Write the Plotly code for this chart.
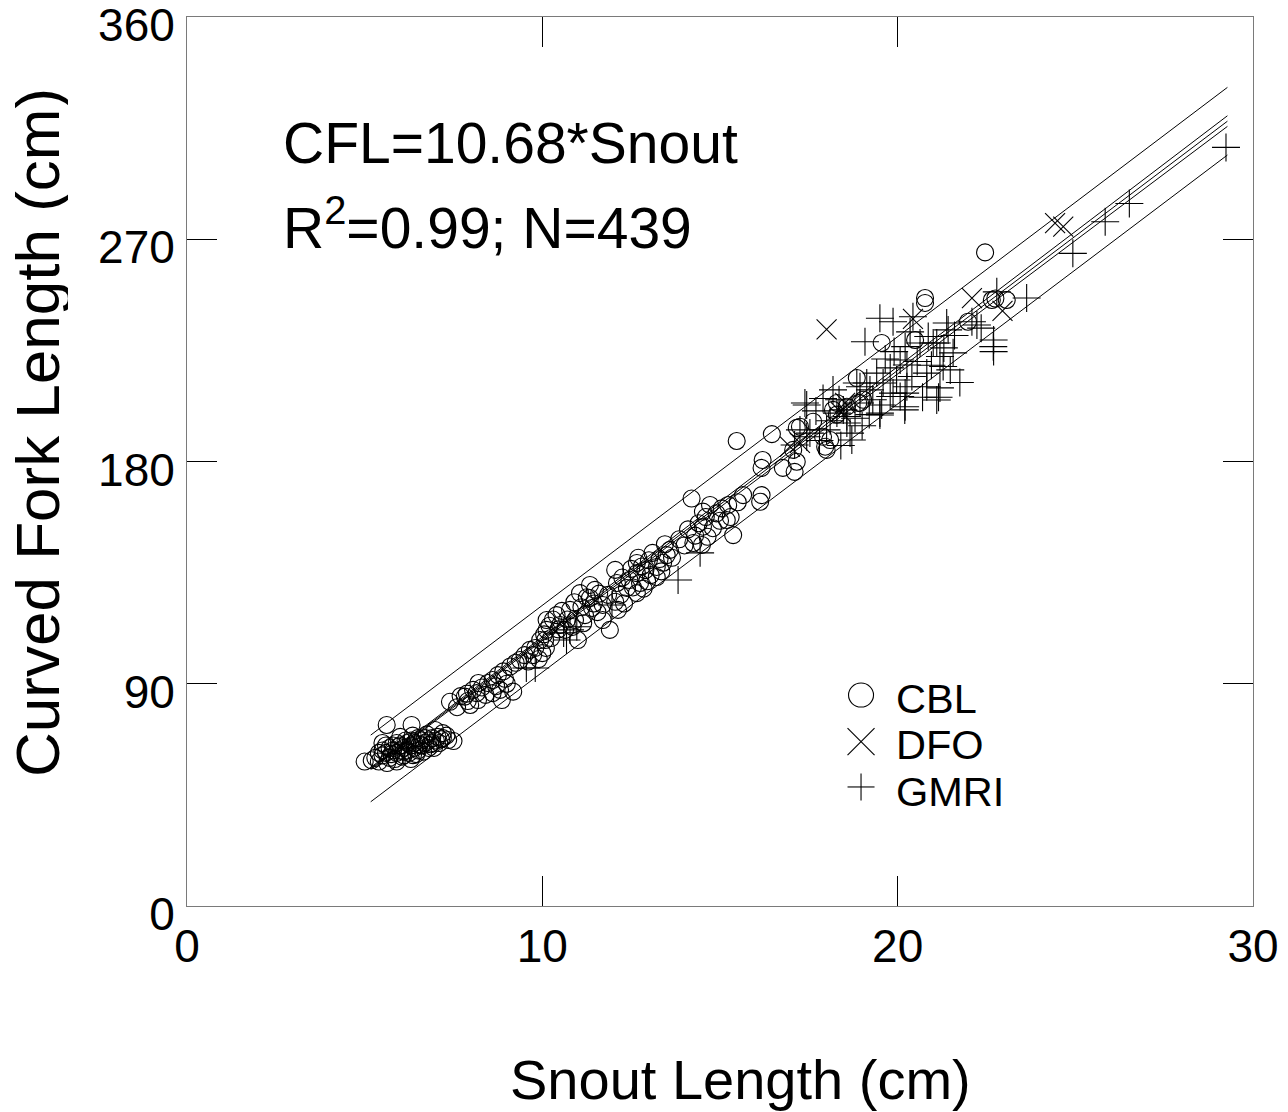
import plotly.graph_objects as go

FONT = "Liberation Sans, Arial, Helvetica, sans-serif"

# ---- data (Snout length cm, CFL cm) ----
cbl_x = [5.0, 5.3, 5.4, 5.5, 5.5, 5.6, 5.63, 5.62, 5.7, 5.7, 5.8, 5.8, 5.9, 5.9, 6.0, 6.0, 6.1, 6.1,
         6.2, 6.2, 6.3, 6.3, 6.32, 6.36, 6.4, 6.4, 6.5, 6.5, 6.6, 6.6, 6.7, 6.7, 6.8, 6.8, 6.9, 6.9,
         6.98, 7.0, 7.1, 7.2, 7.2, 7.35, 7.5, 5.9, 6.3, 5.5, 6.0,
         5.2, 5.4, 5.6, 5.75, 5.85, 6.05, 6.15, 6.25, 6.45, 6.55, 6.65, 6.75, 6.85, 6.95, 7.05, 7.15,
         7.3, 5.95, 6.35, 6.1,
         7.4, 7.6, 7.82, 7.97, 7.88, 8.15, 8.2, 8.19, 8.47, 8.6, 8.6, 8.86, 8.81, 8.95, 8.9, 9.18, 9.37,
         7.7, 7.9, 8.05, 8.3, 8.4, 8.7, 8.75, 9.0, 9.1, 9.25,
         9.5, 9.65, 9.74, 9.94, 10.0, 10.08, 10.12, 10.12, 10.2, 10.4, 10.5, 10.64, 10.78, 10.92, 11.0,
         11.06, 11.2, 11.34, 11.4, 11.48, 11.34, 11.7, 11.7,
         9.6, 9.8, 9.9, 10.05, 10.25, 10.3, 10.45, 10.55, 10.7, 10.85, 11.1, 11.15, 11.25, 11.45, 11.55,
         11.6, 10.9, 10.1,
         11.9, 12.05, 12.1, 12.05, 12.13, 12.38, 12.45, 12.66, 12.66, 12.75, 12.66, 12.9, 13.0, 13.22,
         13.22, 13.5, 13.59, 13.4,
         12.2, 12.25, 12.3, 12.5, 12.55, 12.7, 12.8, 12.85, 13.05, 13.1, 13.3, 13.35, 13.45, 13.65,
         12.95, 11.85,
         14.0, 14.3, 14.49, 14.52, 14.52, 14.72, 14.2, 14.8, 15.0, 15.19, 15.23, 15.37, 15.47, 15.65,
         13.85, 14.1, 14.25, 14.6, 14.65, 14.9, 15.05, 15.3, 14.4, 15.5,
         16.17, 16.13, 16.2, 16.17, 16.46, 16.77, 17.1, 17.16, 17.16, 17.06, 17.25, 17.62, 17.9, 18.0,
         17.96, 18.1, 18.18, 18.29, 18.29, 18.57, 18.85, 18.89, 18.94, 19.03, 19.55, 20.49, 20.77,
         20.77, 21.98, 22.46, 22.65, 22.75, 23.07]
cbl_y = [58.5, 60, 62, 61, 63, 62, 57.9, 73.3, 64, 60, 63, 65, 62, 66, 63, 65, 61, 64,
         66, 63, 65, 67, 73.3, 61.1, 64, 66, 68, 63, 65, 67, 66, 68, 64, 67, 66, 68,
         71.3, 67, 66, 68, 70, 67.2, 66.8, 58.5, 59.5, 66, 68.5,
         59, 58.5, 65, 61.5, 59.5, 60.5, 67, 62, 61.5, 65.5, 62.5, 69.5, 65.5, 64, 68.5, 67.5,
         69, 64.5, 69, 62.5,
         82.7, 80.5, 84.8, 81.4, 86, 86.2, 90.3, 83.4, 90.3, 86.2, 91.5, 83.4, 87.5, 92, 95, 86.8, 99.6,
         85, 83, 87.5, 88.5, 85.5, 89, 93.5, 90, 97, 98.5,
         101.6, 103.7, 101.6, 107.7, 102.4, 107.7, 111.8, 115.8, 113.5, 117.8, 113.8, 111.8, 119.9, 115.8, 107.7,
         126.7, 117.8, 124.7, 120.7, 128, 130, 115.8, 121.9,
         99, 104.5, 100, 110, 108.5, 116, 112, 119.5, 116, 113, 121, 114.5, 125, 122.5, 119,
         126.5, 123, 104.5,
         111.8, 136.1, 130.8, 123.2, 119.9, 128.8, 132, 138.9, 134.8, 130.8, 126.7, 136, 140, 137.3,
         133.2, 142.1, 144.2, 139,
         126, 133, 122.5, 136.5, 129, 141, 137.5, 128.5, 134, 143, 140.5, 135.5, 146.5, 141,
         131.5, 126,
         146, 150, 146.2, 153.6, 159.7, 162.4, 165, 153, 156, 156.3, 162.4, 150.2, 188.3, 166.4,
         148.5, 152.5, 147, 157.5, 149.5, 159, 161, 157.5, 155, 163.5,
         166.4, 163.7, 180.6, 177.4, 191.1, 177.4, 175.8, 179.9, 193.6, 184.7, 194.1, 196.1, 190, 184.7,
         186, 188.7, 200.9, 203.7, 199, 202.2, 213.8, 203.7, 203.7, 205, 228, 229.2, 246.2,
         244.2, 236.6, 264.7, 245.4, 246, 245.4]

dfo_x = [16.97, 17.25, 18.0, 18.4, 18.52, 20.43, 22.09, 22.95, 24.43, 24.66]
dfo_y = [186, 187.5, 233.5, 200, 203.7, 237.8, 246.2, 241, 276.5, 275.1]

gmri_x = [9.55, 9.8, 10.6, 10.68, 10.78, 10.97, 11.96, 13.82, 14.44,
          17.39, 17.44, 17.25, 17.53, 17.1, 17.44, 18.0, 18.18, 18.29, 18.47, 18.57, 18.57, 18.66,
          18.71, 18.85, 18.94, 18.94, 19.13, 19.08, 19.22, 19.41, 19.5, 19.55, 19.5, 19.59, 19.79,
          19.79, 19.87, 19.87, 19.97, 20.07, 20.07, 20.2, 20.21, 20.21, 20.21, 20.26, 20.26, 20.4,
          20.43, 20.63, 20.82, 20.82, 20.86, 21.0, 21.1, 21.1, 21.15, 21.19, 21.19, 21.28, 21.38,
          21.42, 21.48, 21.56, 22.09, 22.23, 22.35, 22.69, 22.7, 22.7, 22.79, 23.63, 24.93, 25.84,
          26.52, 29.24, 19.5,
          17.7, 17.9, 18.1, 18.35, 18.8, 19.0, 19.3, 19.65, 19.9, 20.35, 20.55, 20.7, 20.95, 21.3,
          21.6, 21.75, 19.2, 18.4, 17.8]
gmri_y = [96.4, 96.4, 110.6, 107.7, 111.8, 113.1, 121.9, 132.0, 143.0,
          203.7, 202.9, 192.8, 191.5, 186.7, 190, 192.8, 209, 199.6, 200.9, 198.2, 195.6, 191.5,
          188.7, 211.8, 210.3, 203.7, 211.8, 228.5, 209, 215.8, 199.6, 202.9, 198.8, 211.8, 217.9,
          206.3, 207.7, 236.6, 213, 206.3, 221.1, 200.9, 226.5, 202.2, 207.7, 219.1, 210.3, 214.4,
          238.6, 228, 215.8, 210.3, 230.6, 228, 228, 204.9, 206, 222.5, 209.8, 218.5, 236.1,
          233.3, 217.1, 224, 236.6, 235.3, 234, 226.5, 229.2, 224.5, 248.7, 246.2, 264.3, 277.1,
          284.5, 307.2, 238,
          200.5, 205.5, 196.5, 205, 197.5, 194.5, 205, 221.5, 224.5, 232.5, 220.5, 206, 219, 226,
          231, 212, 199, 186.5, 188.5]

# regression line and bands (end points)
line_x = [5.17, 29.28]
fit_y = [55.7, 317.8]
ci_up = [56.1, 320.0]
ci_lo = [55.3, 315.7]
pi_up = [69.2, 331.5]
pi_lo = [42.2, 304.1]

groups = ["CBL", "DFO", "GMRI"]

fig = go.Figure()

line_style = dict(color="black", width=1)
for yy in (pi_up, pi_lo, ci_up, ci_lo, fit_y):
    fig.add_trace(go.Scatter(x=line_x, y=yy, mode="lines", line=line_style,
                             showlegend=False, hoverinfo="skip"))

mk_line = dict(color="black", width=1.1)
fig.add_trace(go.Scatter(x=cbl_x, y=cbl_y, mode="markers", name=groups[0], showlegend=False,
                         marker=dict(symbol="circle-open", size=17, color="black", line=mk_line)))
fig.add_trace(go.Scatter(x=dfo_x, y=dfo_y, mode="markers", name=groups[1], showlegend=False,
                         marker=dict(symbol="x-thin-open", size=20, color="black", line=mk_line)))
fig.add_trace(go.Scatter(x=gmri_x, y=gmri_y, mode="markers", name=groups[2], showlegend=False,
                         marker=dict(symbol="cross-thin-open", size=20, color="black", line=mk_line)))

axis_common = dict(showgrid=False, zeroline=False, showline=True, linecolor="#7a7a7a", linewidth=1,
                   mirror="ticks", ticks="inside", ticklen=30, tickwidth=1, tickcolor="black",
                   automargin=False, ticklabeloverflow="allow",
                   tickfont=dict(family=FONT, size=46, color="black"))

fig.update_xaxes(range=[0, 30], tickvals=[0, 10, 20, 30], **axis_common)
fig.update_yaxes(range=[0, 360], tickvals=[0, 90, 180, 270, 360],
                 ticklabelshift=8, ticklabelstandoff=2, **axis_common)

# axis titles
fig.add_annotation(xref="paper", yref="paper", x=0.5188, y=-0.1957, xanchor="center", yanchor="middle",
                   text="Snout Length (cm)", showarrow=False,
                   font=dict(family=FONT, size=56, color="black"))
fig.add_annotation(xref="paper", yref="paper", x=-0.1398, y=0.5332, xanchor="center", yanchor="middle",
                   text="Curved Fork Length (cm)", showarrow=False, textangle=-90,
                   height=60, borderpad=0,
                   font=dict(family=FONT, size=62, color="black"))

# equation text
fig.add_annotation(xref="paper", yref="paper", x=0.088, y=0.8582, xanchor="left", yanchor="middle",
                   text="CFL=10.68*Snout", showarrow=False, align="left",
                   font=dict(family=FONT, size=57, color="black"))
fig.add_annotation(xref="paper", yref="paper", x=0.088, y=0.7677, xanchor="left", yanchor="middle",
                   text="R<sup>2</sup>=0.99; N=439", showarrow=False, align="left",
                   font=dict(family=FONT, size=57, color="black"))

# legend (symbols + labels)
lx = 0.6323
ly = [0.2373, 0.1850, 0.1339]
sym = dict(color="black", width=1.1)
fig.add_shape(type="circle", xref="paper", yref="paper", xsizemode="pixel", ysizemode="pixel",
              xanchor=lx, yanchor=ly[0], x0=-12.5, x1=12.5, y0=-12, y1=12, line=sym)
for a, b in ((-13.5, -13.5), (-13.5, 13.5)):
    fig.add_shape(type="line", xref="paper", yref="paper", xsizemode="pixel", ysizemode="pixel",
                  xanchor=lx, yanchor=ly[1], x0=a, x1=-a, y0=b, y1=-b, line=sym)
fig.add_shape(type="line", xref="paper", yref="paper", xsizemode="pixel", ysizemode="pixel",
              xanchor=lx, yanchor=ly[2], x0=-13.5, x1=13.5, y0=0, y1=0, line=sym)
fig.add_shape(type="line", xref="paper", yref="paper", xsizemode="pixel", ysizemode="pixel",
              xanchor=lx, yanchor=ly[2], x0=0, x1=0, y0=-13.5, y1=13.5, line=sym)
text_y = [0.2340, 0.1817, 0.1294]
for name, ty in zip(groups, text_y):
    fig.add_annotation(xref="paper", yref="paper", x=0.6642, y=ty, xanchor="left", yanchor="middle",
                       text=name, showarrow=False, height=42, borderpad=0,
                       font=dict(family=FONT, size=41.5, color="black"))

fig.update_layout(
    width=1288, height=1112,
    margin=dict(l=187, r=35, t=17, b=206),
    paper_bgcolor="white", plot_bgcolor="white",
    showlegend=False,
)

# remove the page's default 8 px body margin so the figure fills the window exactly
fig.write_html("out.html", config={"displayModeBar": False},
               post_script="document.body.style.margin='0px';")
